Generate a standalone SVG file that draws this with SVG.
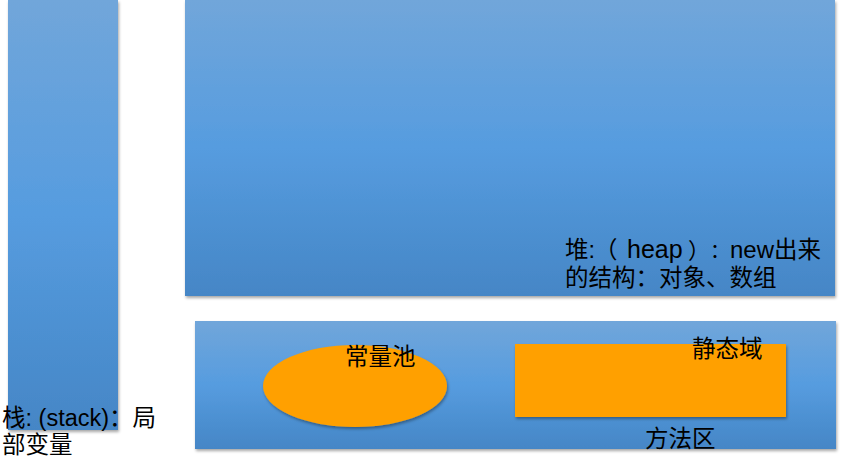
<svg xmlns="http://www.w3.org/2000/svg" width="841" height="460" viewBox="0 0 841 460">
<defs>
<linearGradient id="blue" x1="0" y1="0" x2="0" y2="1">
<stop offset="0" stop-color="#71a6da"/>
<stop offset="0.5" stop-color="#569cdf"/>
<stop offset="1" stop-color="#4586c6"/>
</linearGradient>
<filter id="sh" x="-5%" y="-5%" width="110%" height="115%">
<feDropShadow dx="1" dy="2" stdDeviation="1.5" flood-color="#000" flood-opacity="0.35"/>
</filter>
</defs>
<style>
.box{fill:url(#blue);filter:url(#sh)}
.orange{fill:#ffa004;filter:url(#sh)}
text{font-family:"Liberation Sans","Noto Sans CJK SC",sans-serif;font-size:23.5px;fill:#000}
.l{font-size:25px}
.n{font-size:24px}
.p{font-size:22px}
.c{font-size:20px}
</style>
<rect width="841" height="460" fill="#fff"/>
<g id="stack">
<rect class="box" x="8" y="0" width="110" height="430"/>
<text x="2" y="426">栈: (stack)：局</text>
<text x="2" y="453">部变量</text>
</g>
<g id="heap">
<rect class="box" x="185" y="0" width="650" height="296"/>
<text x="565" y="258">堆:<tspan x="594">（</tspan><tspan class="l" x="627">heap</tspan><tspan class="p" x="688">）</tspan><tspan class="c" x="710">：</tspan><tspan class="n" x="730">new</tspan>出来</text>
<text x="565" y="286">的结构：对象、数组</text>
</g>
<g id="method-area">
<rect class="box" x="195" y="321" width="641" height="128"/>
<text x="645" y="447">方法区</text>
</g>
<g id="constant-pool">
<ellipse class="orange" cx="355" cy="386" rx="92" ry="41"/>
<text x="345" y="365">常量池</text>
</g>
<g id="static-area">
<rect class="orange" x="515" y="344" width="271" height="73"/>
<text x="692" y="357">静态域</text>
</g>
<g id="connectors"></g>
</svg>
